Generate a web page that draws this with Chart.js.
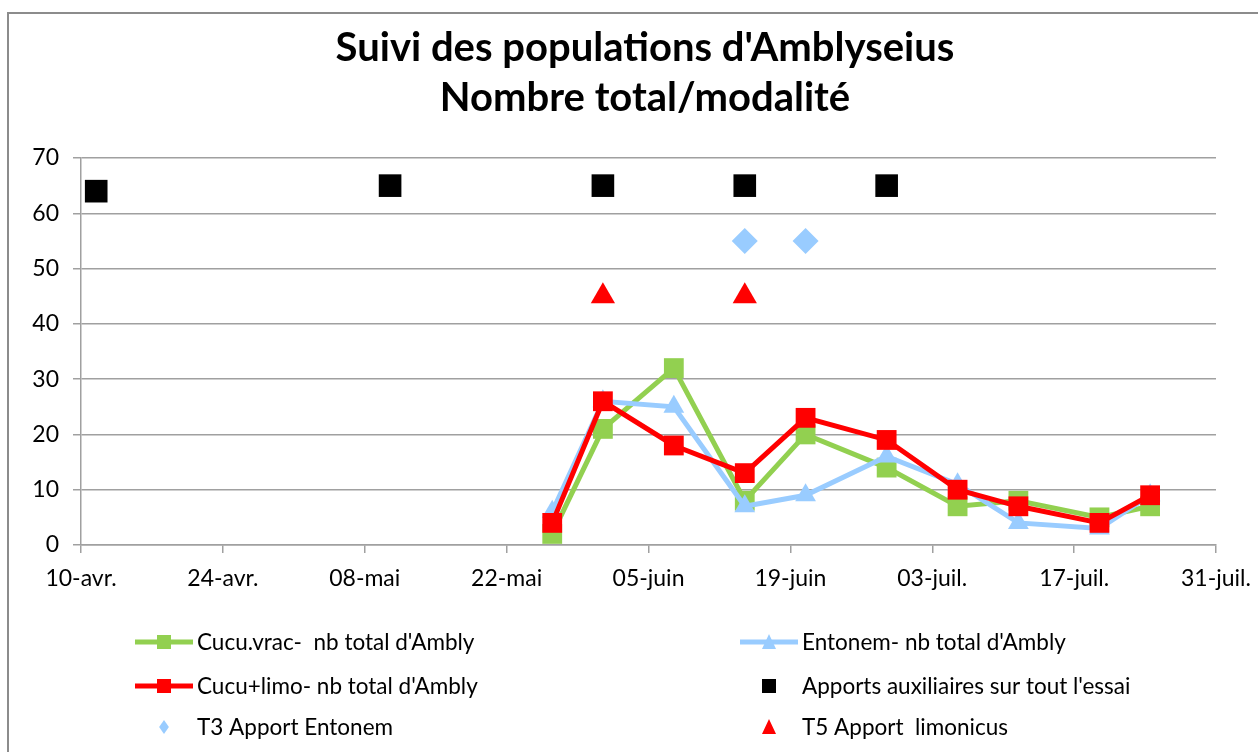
<!DOCTYPE html>
<html><head><meta charset="utf-8">
<script src="https://cdn.jsdelivr.net/npm/chart.js@4/dist/chart.umd.min.js"></script>
<style>html,body{margin:0;padding:0;background:#fff;}#wrap{position:relative;width:1258px;height:752px;}</style>
</head><body><div id="wrap"><canvas id="c" width="1258" height="752"></canvas></div>
<script>
const titleLines = ["Suivi des populations d'Amblyseius", "Nombre total/modalité"];
const tickLabels = ["10-avr.","24-avr.","08-mai","22-mai","05-juin","19-juin","03-juil.","17-juil.","31-juil."];
const startDate = "2013-04-10";
const lineDates = ["2013-05-26","2013-05-31","2013-06-07","2013-06-14","2013-06-20","2013-06-28","2013-07-05","2013-07-11","2013-07-19","2013-07-24"];
const cucuVrac = [2,21,32,8,20,14,7,8,5,7];
const entonem  = [6,26,25,7,9,16,11,4,3,9];
const cucuLimo = [4,26,18,13,23,19,10,7,4,9];
const apportDates = ["2013-04-11","2013-05-10","2013-05-31","2013-06-14","2013-06-28"];
const apportValues = [64,65,65,65,65];
const t3Dates = ["2013-06-14","2013-06-20"];
const t3Values = [55,55];
const t5Dates = ["2013-05-31","2013-06-14"];
const t5Values = [45,45];
const seriesNames = ["Cucu.vrac-  nb total d'Ambly","Entonem- nb total d'Ambly","Cucu+limo- nb total d'Ambly","Apports auxiliaires sur tout l'essai","T3 Apport Entonem","T5 Apport  limonicus"];

const FONT = "Lato, 'Open Sans', sans-serif";
const dayPos = d => (Date.parse(d) - Date.parse(startDate)) / 864e5 + 0.5;
const pts = (dates, vals) => dates.map((d, i) => ({x: dayPos(d), y: vals[i]}));

const frame = {
  id: 'frame',
  beforeDraw(chart) {
    const ctx = chart.ctx;
    ctx.save();
    ctx.fillStyle = '#fff';
    ctx.fillRect(0, 0, chart.width, chart.height);
    ctx.strokeStyle = '#8c8c8c';
    ctx.lineWidth = 2;
    ctx.strokeRect(8, 13, 1300, 800);
    ctx.restore();
  },
  afterDraw(chart) {
    const ctx = chart.ctx;
    ctx.save();
    ctx.fillStyle = '#000';
    ctx.textAlign = 'center';
    ctx.textBaseline = 'middle';
    ctx.font = "bold 40px " + FONT;
    ctx.fillText(titleLines[0], 645, 48);
    ctx.fillText(titleLines[1], 645, 98);
    // legend
    const ds = chart.data.datasets;
    const items = [
      {i: 0, x: 135, y: 642, line: true},
      {i: 1, x: 740, y: 642, line: true},
      {i: 2, x: 135, y: 686, line: true},
      {i: 3, x: 740, y: 686, line: false},
      {i: 4, x: 135, y: 727, line: false},
      {i: 5, x: 740, y: 727, line: false}
    ];
    ctx.font = "22.5px " + FONT;
    ctx.textAlign = 'left';
    items.forEach(it => {
      const d = ds[it.i];
      const cx = it.x + 29;
      if (it.line) {
        ctx.strokeStyle = d.borderColor;
        ctx.lineWidth = 5;
        ctx.beginPath(); ctx.moveTo(it.x, it.y); ctx.lineTo(it.x + 58, it.y); ctx.stroke();
      }
      ctx.fillStyle = d.pointBackgroundColor;
      const s = 7;
      ctx.beginPath();
      if (d.pointStyle === 'rect') { ctx.rect(cx - s, it.y - s, 2*s, 2*s); }
      else if (d.pointStyle === 'triangle') { ctx.moveTo(cx, it.y - s - 1); ctx.lineTo(cx + s, it.y + s); ctx.lineTo(cx - s, it.y + s); ctx.closePath(); }
      else if (d.pointStyle === 'rectRot') { ctx.moveTo(cx, it.y - s); ctx.lineTo(cx + s*0.7, it.y); ctx.lineTo(cx, it.y + s); ctx.lineTo(cx - s*0.7, it.y); ctx.closePath(); }
      ctx.fill();
      ctx.fillStyle = '#000';
      ctx.fillText(d.label, it.x + 62, it.y + 1);
    });
    ctx.restore();
  }
};

new Chart(document.getElementById('c'), {
  type: 'line',
  data: {
    datasets: [
      {label: seriesNames[0], data: pts(lineDates, cucuVrac), borderColor: '#92D050', backgroundColor: '#92D050', pointBackgroundColor: '#92D050', pointBorderColor: '#92D050', borderWidth: 5, pointStyle: 'rect', pointRadius: 14, pointBorderWidth: 0, order: 3},
      {label: seriesNames[1], data: pts(lineDates, entonem), borderColor: '#99CCFF', backgroundColor: '#99CCFF', pointBackgroundColor: '#99CCFF', pointBorderColor: '#99CCFF', borderWidth: 5, pointStyle: 'triangle', pointRadius: 12, pointBorderWidth: 0, order: 2},
      {label: seriesNames[2], data: pts(lineDates, cucuLimo), borderColor: '#FF0000', backgroundColor: '#FF0000', pointBackgroundColor: '#FF0000', pointBorderColor: '#FF0000', borderWidth: 5, pointStyle: 'rect', pointRadius: 14, pointBorderWidth: 0, order: 1},
      {label: seriesNames[3], data: pts(apportDates, apportValues), showLine: false, borderColor: '#000', backgroundColor: '#000', pointBackgroundColor: '#000', pointBorderColor: '#000', pointStyle: 'rect', pointRadius: 16, pointBorderWidth: 0, order: 0},
      {label: seriesNames[4], data: pts(t3Dates, t3Values), showLine: false, borderColor: '#99CCFF', backgroundColor: '#99CCFF', pointBackgroundColor: '#99CCFF', pointBorderColor: '#99CCFF', pointStyle: 'rectRot', pointRadius: 13, pointBorderWidth: 0, order: 0},
      {label: seriesNames[5], data: pts(t5Dates, t5Values), showLine: false, borderColor: '#FF0000', backgroundColor: '#FF0000', pointBackgroundColor: '#FF0000', pointBorderColor: '#FF0000', pointStyle: 'triangle', pointRadius: 14, pointBorderWidth: 0, order: 0}
    ]
  },
  options: {
    responsive: false,
    animation: false,
    devicePixelRatio: 1,
    clip: false,
    layout: {padding: {left: 0, right: 42, top: 158, bottom: 127}},
    plugins: {legend: {display: false}, title: {display: false}, tooltip: {enabled: false}},
    scales: {
      x: {
        type: 'linear', min: 0, max: 112,
        afterFit: s => { s.height = 80; s.paddingRight = 0; s.paddingLeft = 0; },
        grid: {drawOnChartArea: false, drawTicks: true, tickLength: 8, color: '#a0a0a0', lineWidth: 1.5},
        border: {color: '#a0a0a0', width: 1.5},
        ticks: {stepSize: 14, autoSkip: false, maxRotation: 0, padding: 12, color: '#000', font: {family: FONT, size: 23},
          callback: v => tickLabels[Math.round(v / 14)]}
      },
      y: {
        min: 0, max: 70,
        afterFit: s => { s.width = 81; s.paddingTop = 0; s.paddingBottom = 0; },
        grid: {color: '#a0a0a0', lineWidth: 1.5, tickLength: 8},
        border: {color: '#a0a0a0', width: 1.5},
        ticks: {stepSize: 10, padding: 14, color: '#000', font: {family: FONT, size: 23}}
      }
    }
  },
  plugins: [frame]
});
</script></body></html>
